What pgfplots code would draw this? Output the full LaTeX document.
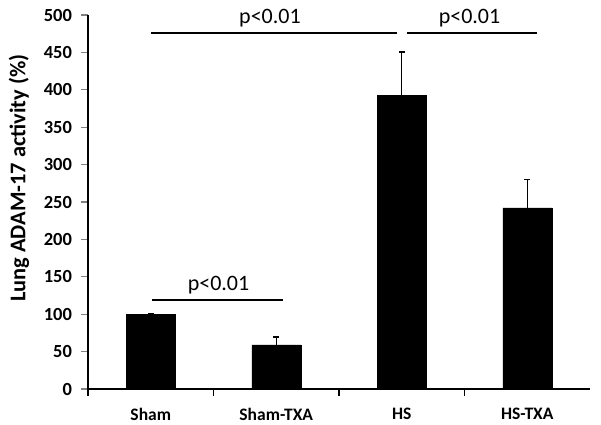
\documentclass[border=0pt]{standalone}
\usepackage{pgfplots}
\pgfplotsset{compat=1.18}
\usepackage{fontspec}
\setmainfont{Carlito}
\begin{document}
\begin{tikzpicture}
\path[use as bounding box] (-88pt,-35pt) rectangle (513pt,389pt);
\begin{axis}[
  at={(0pt,0pt)}, anchor=south west,
  scale only axis, width=502pt, height=374pt,
  xmin=-0.5, xmax=3.5, ymin=0, ymax=500,
  axis x line*=bottom, axis y line*=left,
  axis line style={line width=1.3pt},
  ytick={0,50,...,500},
  ytick pos=left,
  major tick length=6.5pt,
  y tick style={line width=1.3pt},
  tick align=outside,
  xtick={0,1,2,3},
  xticklabels={Sham,Sham-TXA,HS,HS-TXA},
  x tick style={draw=none},
  extra x ticks={-0.5,0.5,1.5,2.5},
  extra x tick labels={},
  extra x tick style={x tick style={draw=black, line width=1.3pt}},
  /pgf/number format/assume math mode=true,
  yticklabel style={font=\fontsize{18.5}{20}\selectfont\bfseries, xshift=-6pt},
  xticklabel style={font=\fontsize{17.5}{19}\selectfont\bfseries, yshift=-9pt},
  ylabel={Lung ADAM-17 activity (\%)},
  ylabel style={font=\fontsize{22.4}{24}\selectfont\bfseries, at={(axis description cs:-0.1375,0.564)}, anchor=center, rotate=0},
  clip=false,
]
\addplot[ybar, bar width=49pt, fill=black, draw=black,
  error bars/.cd, y dir=plus, y explicit,
  error bar style={line width=1.3pt, black},
  error mark options={rotate=90, mark size=3pt, line width=1.3pt, black}]
  coordinates {(0,100) +- (0,1) (1,59) +- (0,10.5) (2,393) +- (0,57.5) (3,242) +- (0,38)};
\draw[line width=1.3pt] (axis cs:0,476) -- (axis cs:1.96,476);
\draw[line width=1.3pt] (axis cs:2.04,476) -- (axis cs:3.08,476);
\draw[line width=1.3pt] (axis cs:0.01,119) -- (axis cs:1.05,119);
\node[anchor=base, font=\fontsize{22}{24}\selectfont] at (axis cs:0.95,489) {p<0.01};
\node[anchor=base, font=\fontsize{22}{24}\selectfont] at (axis cs:2.54,489) {p<0.01};
\node[anchor=base, font=\fontsize{22}{24}\selectfont] at (axis cs:0.54,132) {p<0.01};
\end{axis}
\end{tikzpicture}
\end{document}
